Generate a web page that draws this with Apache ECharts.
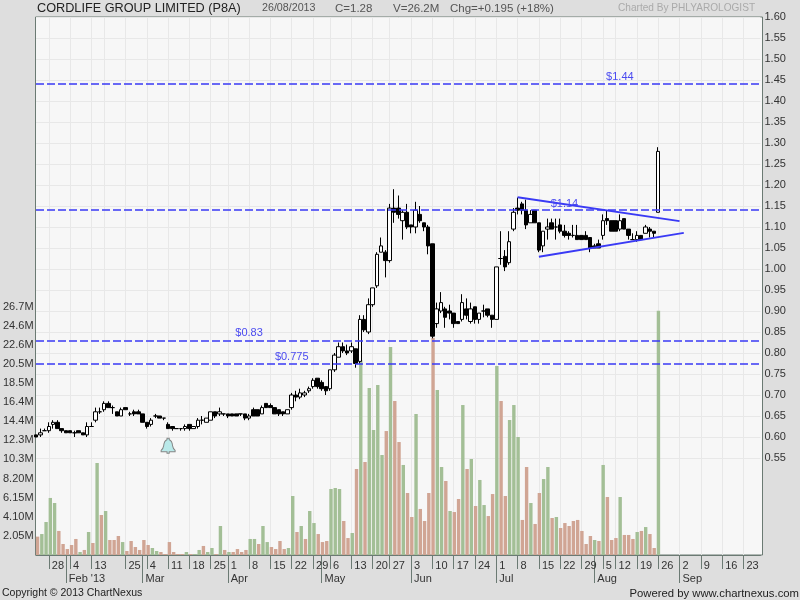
<!DOCTYPE html>
<html><head><meta charset="utf-8">
<style>html,body{margin:0;padding:0;background:#dedede}#c{width:800px;height:600px}</style>
<script src="https://cdn.jsdelivr.net/npm/echarts@6/dist/echarts.min.js"></script>
</head><body><div id="c"></div>
<script>
const categories = [
"01-23","01-24","01-25","01-28","01-29","01-30","01-31",
"02-01","02-04","02-05","02-06","02-07","02-08","02-13","02-14","02-15","02-18","02-19","02-20","02-21","02-22","02-25","02-26","02-27","02-28",
"03-01","03-04","03-05","03-06","03-07","03-08","03-11","03-12","03-13","03-14","03-15","03-18","03-19","03-20","03-21","03-22","03-25","03-26","03-27","03-28",
"04-01","04-02","04-03","04-04","04-05","04-08","04-09","04-10","04-11","04-12","04-15","04-16","04-17","04-18","04-19","04-22","04-23","04-24","04-25","04-26","04-29","04-30",
"05-02","05-03","05-06","05-07","05-08","05-09","05-10","05-13","05-14","05-15","05-16","05-17","05-20","05-21","05-22","05-23","05-27","05-28","05-29","05-30","05-31",
"06-03","06-04","06-05","06-06","06-07","06-10","06-11","06-12","06-13","06-14","06-17","06-18","06-19","06-20","06-21","06-24","06-25","06-26","06-27","06-28",
"07-01","07-02","07-03","07-04","07-05","07-08","07-09","07-10","07-11","07-12","07-15","07-16","07-17","07-18","07-19","07-22","07-23","07-24","07-25","07-26","07-29","07-30","07-31",
"08-01","08-02","08-05","08-06","08-07","08-12","08-13","08-14","08-15","08-16","08-19","08-20","08-21","08-22","08-23","08-26","08-27","08-28","08-29","08-30",
"09-02","09-03","09-04","09-05","09-06","09-09","09-10","09-11","09-12","09-13","09-16","09-17","09-18","09-19","09-20","09-23","09-24","09-25","09-26","09-27"];

const weekTicks = ["01-28","02-04","02-13","02-25","03-04","03-11","03-18","03-25","04-01","04-08","04-15","04-22","04-29","05-06","05-13","05-20","05-27","06-03","06-10","06-17","06-24","07-01","07-08","07-15","07-22","07-29","08-05","08-12","08-19","08-26","09-02","09-09","09-16","09-23"];
const gridOnlyTicks = ["02-18"];
const monthTicks = ["02-01","03-01","04-01","05-02","06-03","07-01","08-01","09-02"];
const monthLabels = ["Feb '13","Mar","Apr","May","Jun","Jul","Aug","Sep"];

const opens = [.605,.605,.615,.615,.630,.635,.620,.615,.615,.610,.615,.610,.605,.625,.640,.660,.665,.680,.670,.660,.650,.670,.655,.660,.660,.655,.635,.630,.650,.650,.645,.630,.625,.620,.620,.620,.630,.620,.625,.640,.635,.640,.660,.655,.655,.655,.655,.655,.655,.655,.645,.665,.665,.655,.680,.675,.670,.665,.660,.655,.670,.700,.695,.700,.710,.720,.740,.730,.720,.715,.760,.790,.815,.805,.805,.810,.780,.880,.850,.915,.960,1.040,1.040,1.020,1.145,1.145,1.115,1.135,1.105,1.100,1.130,1.110,1.100,1.060,.870,.900,.905,.900,.895,.875,.880,.905,.875,.910,.880,.900,.905,.890,.880,1.025,1.030,1.015,1.095,1.145,1.155,1.140,1.110,1.140,1.110,1.055,1.095,1.110,1.100,1.105,1.090,1.085,1.080,1.080,1.080,1.080,1.075,1.055,1.060,1.080,1.120,1.115,1.115,1.095,1.120,1.095,1.070,1.070,1.080,1.085,1.095,1.090,1.135];
const closes = [.600,.610,.615,.625,.635,.620,.615,.610,.610,.610,.610,.605,.625,.625,.660,.660,.680,.670,.670,.650,.665,.665,.655,.655,.655,.635,.625,.640,.650,.645,.645,.620,.620,.620,.620,.625,.620,.625,.640,.640,.645,.660,.650,.660,.655,.650,.650,.650,.655,.645,.650,.650,.650,.670,.670,.670,.655,.655,.655,.665,.700,.695,.705,.705,.715,.735,.720,.715,.710,.760,.795,.815,.805,.800,.815,.775,.880,.855,.915,.955,1.035,1.055,1.020,1.145,1.135,1.130,1.135,1.100,1.100,1.140,1.115,1.100,1.055,.840,.905,.920,.885,.895,.870,.870,.920,.890,.905,.880,.895,.900,.890,.880,1.005,1.025,1.005,1.065,1.135,1.140,1.140,1.105,1.130,1.110,1.045,1.090,1.100,1.095,1.100,1.090,1.080,1.080,1.080,1.070,1.070,1.070,1.050,1.050,1.050,1.115,1.115,1.090,1.090,1.115,1.095,1.080,1.070,1.080,1.070,1.100,1.090,1.085,1.280];
const lows = [.600,.600,.615,.610,.620,.620,.610,.610,.610,.600,.610,.605,.600,.625,.635,.655,.660,.670,.655,.650,.650,.665,.650,.650,.655,.635,.620,.625,.645,.645,.640,.620,.615,.620,.615,.615,.615,.620,.620,.630,.635,.640,.645,.650,.650,.645,.650,.650,.650,.640,.640,.650,.650,.655,.670,.670,.655,.650,.650,.655,.665,.685,.690,.695,.705,.715,.715,.710,.700,.710,.755,.790,.800,.795,.800,.765,.775,.850,.845,.910,.955,1.040,.980,1.015,1.110,1.120,1.070,1.095,1.085,1.085,1.110,1.090,1.035,.835,.860,.895,.860,.880,.860,.870,.875,.880,.870,.870,.870,.885,.885,.860,.880,1.010,.995,1.010,1.090,1.130,1.130,1.095,1.110,1.110,1.040,1.040,1.070,1.095,1.070,1.085,1.075,1.070,1.075,1.070,1.070,1.070,1.040,1.050,1.050,1.070,1.105,1.090,1.090,1.090,1.095,1.070,1.070,1.065,1.070,1.085,1.075,1.075,1.135];
const highs = [.605,.620,.620,.635,.640,.640,.620,.615,.615,.615,.615,.610,.635,.635,.670,.670,.685,.685,.675,.660,.670,.670,.660,.665,.665,.655,.635,.645,.655,.650,.645,.635,.625,.620,.620,.630,.630,.625,.645,.650,.645,.660,.660,.670,.655,.655,.655,.655,.655,.655,.655,.670,.665,.675,.680,.680,.670,.665,.660,.665,.705,.710,.715,.710,.720,.740,.740,.735,.720,.760,.800,.825,.825,.820,.825,.810,.890,.890,.930,.955,1.040,1.075,1.045,1.155,1.190,1.175,1.140,1.155,1.105,1.160,1.150,1.110,1.105,1.060,.920,.945,.910,.915,.895,.875,.940,.930,.920,.910,.895,.915,.905,.890,1.005,1.090,1.045,1.090,1.145,1.170,1.160,1.165,1.140,1.140,1.110,1.090,1.120,1.120,1.120,1.120,1.105,1.090,1.105,1.105,1.080,1.090,1.075,1.060,1.070,1.130,1.140,1.115,1.115,1.130,1.120,1.095,1.085,1.090,1.080,1.105,1.100,1.090,1.290];

const volumes = [1.97,2.25,3.54,6.12,5.58,2.58,1.18,.64,1.07,1.72,.32,.54,2.47,1.29,9.87,4.29,4.72,1.61,1.61,2.04,1.39,.43,1.50,.86,.54,1.61,1.07,.75,.43,.32,.11,1.39,.32,.11,.11,.32,.11,.11,.54,.97,.32,.75,.11,3.11,.54,.32,.32,.64,.32,.54,1.72,1.72,1.18,3.11,1.39,.86,.64,1.50,.64,.75,6.33,2.47,3.11,1.72,4.72,3.43,2.25,1.39,1.50,7.08,7.19,7.08,3.65,1.82,2.36,9.23,20.9,9.98,17.92,13.41,18.24,10.73,13.30,22.32,16.52,12.12,9.66,6.65,4.08,15.13,4.94,3.65,6.65,23.3,17.70,9.44,7.94,4.72,4.61,6.01,16.09,9.23,10.30,5.26,8.05,5.36,4.18,6.54,20.28,16.52,6.33,14.48,16.09,12.66,3.76,9.44,5.58,3.33,6.65,8.15,9.44,3.97,4.08,2.90,3.43,3.11,3.65,3.76,2.58,1.18,2.04,1.61,1.50,9.66,6.22,1.61,1.82,6.22,2.15,2.15,1.72,2.47,2.58,3.00,2.25,.75,26.2];
const volumeUp = [0,1,1,1,1,0,0,0,0,0,1,0,1,0,1,0,1,0,0,0,1,0,0,0,0,0,0,1,1,0,0,0,0,0,0,1,0,1,1,0,1,1,0,1,0,1,0,0,0,0,1,1,0,1,1,0,0,0,0,1,1,0,1,0,1,1,0,0,0,1,1,1,0,0,1,0,1,0,1,1,1,1,0,1,0,0,1,0,0,1,0,0,0,0,1,1,0,1,0,0,1,0,1,0,1,1,0,0,1,0,0,1,1,1,0,0,1,0,0,1,1,0,1,0,0,0,0,0,0,0,0,1,0,1,0,0,0,1,0,0,0,1,0,1,0,0,1];
const volumeTickLabels = ["2.05M","4.10M","6.15M","8.20M","10.3M","12.3M","14.4M","16.4M","18.5M","20.5M","22.6M","24.6M","26.7M"];

const levels = [1.44,1.14,.83,.775];
const levelNotes = [
  {text:"$1.44", date:"08-13", price:1.458},
  {text:"$1.14", date:"07-23", price:1.155},
  {text:"$0.83", date:"04-08", price:.848},
  {text:"$0.775", date:"04-22", price:.79}
];
const trendUpper = [["07-08",1.171],["09-02",1.114]];
const trendLower = [["07-15",1.029],["09-03",1.086]];
const alertPoint = ["03-11",.579];

const AXIS = '#6b7a73', GRIDC = '#e8e8e8', BLUE = '#3a3af5', TXT = '#333333';
const FF = '"Liberation Sans", Arial, sans-serif';
const gridLeft = 36, gridWidth = 724.5;

const catAxisBase = {type:'category', data:categories, boundaryGap:false};
const hiddenX = i => Object.assign({}, catAxisBase, {gridIndex:i, show:false});

const chart = echarts.init(document.getElementById('c'), null, {renderer:'canvas'});
chart.setOption({
  animation:false,
  backgroundColor:'#dedede',
  grid:[
    {show:true, left:35.5, top:17, width:727, height:538, backgroundColor:'#f7f7f7', borderColor:AXIS, borderWidth:1},
    {left:gridLeft, top:17, width:gridWidth, height:538},
    {left:gridLeft, top:17, width:gridWidth, height:441},
    {left:gridLeft, top:306.6, width:gridWidth, height:248.4}
  ],
  xAxis:[
    Object.assign({}, catAxisBase, {gridIndex:1, position:'bottom',
      axisLine:{show:true, lineStyle:{color:AXIS}},
      axisTick:{show:true, length:14, lineStyle:{color:AXIS}, interval:(i,v)=>weekTicks.includes(v)},
      axisLabel:{show:true, color:TXT, fontFamily:FF, fontSize:11, align:'left', margin:5, padding:[0,0,0,3],
        interval:(i,v)=>weekTicks.includes(v), formatter:v=>String(parseInt(v.slice(3),10))},
      splitLine:{show:true, lineStyle:{color:GRIDC, width:1}, interval:(i,v)=>weekTicks.includes(v)||gridOnlyTicks.includes(v)}
    }),
    Object.assign({}, catAxisBase, {gridIndex:1, position:'bottom',
      axisLine:{show:false},
      axisTick:{show:true, length:28, lineStyle:{color:AXIS}, interval:(i,v)=>monthTicks.includes(v)},
      axisLabel:{show:true, color:TXT, fontFamily:FF, fontSize:11, align:'left', margin:18, padding:[0,0,0,3],
        interval:(i,v)=>monthTicks.includes(v), formatter:v=>monthLabels[monthTicks.indexOf(v)]},
      splitLine:{show:false}
    }),
    hiddenX(2), hiddenX(3)
  ],
  yAxis:[
    {type:'value', gridIndex:1, show:false, min:0, max:1, splitLine:{show:false}},
    {type:'value', gridIndex:2, position:'right', min:.55, max:1.6, interval:.05,
      axisLine:{show:false}, axisTick:{show:false},
      axisLabel:{color:TXT, fontFamily:FF, fontSize:11, margin:4, formatter:v=>v.toFixed(2)},
      splitLine:{show:true, lineStyle:{color:GRIDC, width:1}}},
    {type:'value', gridIndex:3, position:'left', min:0, max:26.65, interval:2.05,
      axisLine:{show:false}, axisTick:{show:false},
      axisLabel:{color:TXT, fontFamily:FF, fontSize:11, margin:4,
        formatter:v=>{const k=Math.round(v/2.05); return k>0?volumeTickLabels[k-1]:'';}},
      splitLine:{show:false}}
  ],
  series:[
    {type:'bar', xAxisIndex:3, yAxisIndex:2, barWidth:3.4, z:2, silent:true,
      data:volumes.map((v,i)=>({value:v, itemStyle:{color:volumeUp[i]?'#a3bf96':'#d0a594'}}))},
    {type:'candlestick', xAxisIndex:2, yAxisIndex:1, barWidth:4, z:3, silent:true,
      itemStyle:{color:'#ffffff', color0:'#000000', borderColor:'#000000', borderColor0:'#000000', borderColorDoji:'#000000', borderWidth:1},
      data:opens.map((o,i)=>[o,closes[i],lows[i],highs[i]]),
      markLine:{silent:true, symbol:'none', z:5, animation:false,
        label:{show:false},
        data:[
          ...levels.map(v=>[
            {coord:[categories[0],v], lineStyle:{color:BLUE,width:1.5,type:[8,3]}},
            {coord:[categories[categories.length-1],v]}
          ]),
          [{coord:trendUpper[0], lineStyle:{color:BLUE,width:2,type:'solid'}},{coord:trendUpper[1]}],
          [{coord:trendLower[0], lineStyle:{color:BLUE,width:2,type:'solid'}},{coord:trendLower[1]}]
        ]},
      markPoint:{silent:true, z:6, animation:false,
        data:[
          ...levelNotes.map(n=>({coord:[n.date,n.price], symbol:'circle', symbolSize:1,
            itemStyle:{color:'transparent'},
            label:{show:true, position:'inside', formatter:n.text, color:'#4a4af0', fontFamily:FF, fontSize:11}})),
          {coord:alertPoint, symbol:'path://M50 0 L58 0 L58 10 C78 16 80 36 82 56 C84 72 90 80 100 90 L100 100 L58 100 L58 112 L42 112 L42 100 L0 100 L0 90 C10 80 16 72 18 56 C20 36 22 16 42 10 L42 0 Z',
            symbolSize:[14,15], itemStyle:{color:'#b9e9e9', borderColor:'#858585', borderWidth:1}, label:{show:false}}
        ]}
    }
  ],
  graphic:[
    {type:'text', left:37, top:2, silent:true, style:{text:'CORDLIFE GROUP LIMITED (P8A)', fill:'#222', font:'12.7px '+FF}},
    {type:'text', left:262, top:3, silent:true, style:{text:'26/08/2013', fill:'#555', font:'10.7px '+FF}},
    {type:'text', left:335, top:3, silent:true, style:{text:'C=1.28', fill:'#555', font:'11.5px '+FF}},
    {type:'text', left:393, top:3, silent:true, style:{text:'V=26.2M', fill:'#555', font:'11.5px '+FF}},
    {type:'text', left:450, top:3, silent:true, style:{text:'Chg=+0.195 (+18%)', fill:'#555', font:'11.5px '+FF}},
    {type:'text', left:618, top:3, silent:true, style:{text:'Charted By PHLYAROLOGIST', fill:'#aaa', font:'10.1px '+FF}},
    {type:'text', left:2, top:588, silent:true, style:{text:'Copyright © 2013 ChartNexus', fill:'#222', font:'10.5px '+FF}},
    {type:'text', right:1, top:588, silent:true, style:{text:'Powered by www.chartnexus.com', fill:'#222', font:'11.3px '+FF}}
  ]
});
</script></body></html>
